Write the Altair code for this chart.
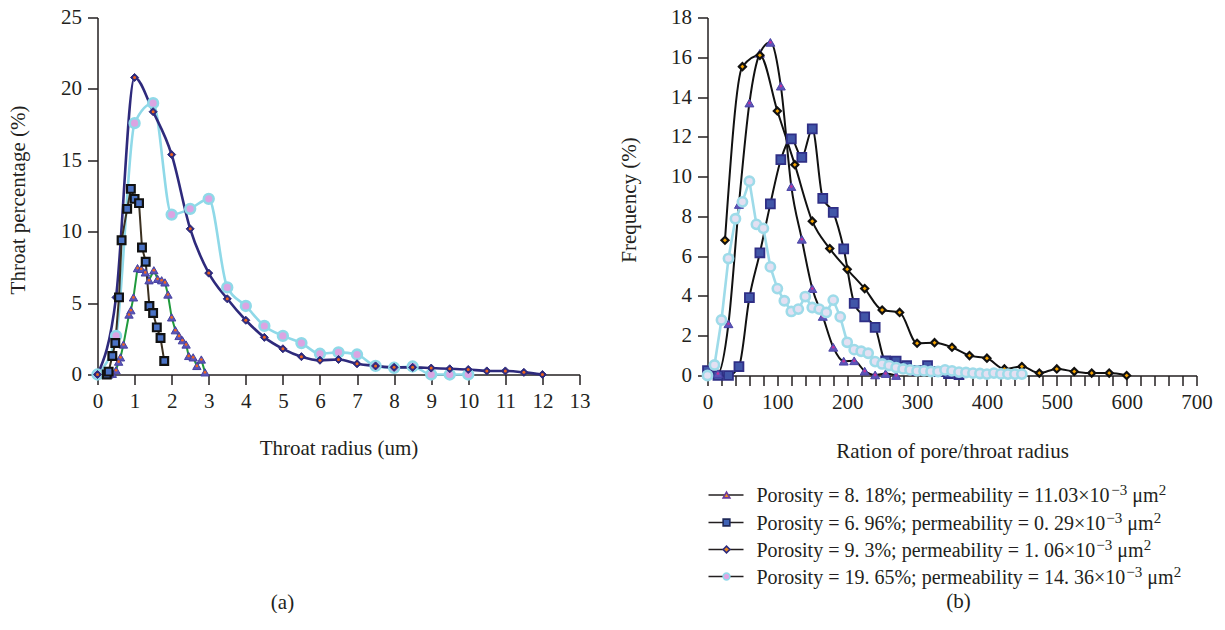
import altair as alt
import pandas as pd

FONT = "Liberation Serif"
INK = "#231f20"
FS = 21

# ---------------- panel (a): throat radius distribution ----------------
a_dia_x = [0, 0.5, 1.0, 1.5, 2.0, 2.5, 3.0, 3.5, 4.0, 4.5, 5.0, 5.5, 6.0, 6.5, 7.0, 7.5, 8.0, 8.5, 9.0, 9.5, 10.0, 10.5, 11.0, 11.5, 12.0]
a_dia_y = [0, 5.4, 20.8, 18.4, 15.4, 10.2, 7.1, 5.3, 3.8, 2.6, 1.8, 1.25, 1.0, 1.05, 0.75, 0.6, 0.5, 0.5, 0.45, 0.4, 0.35, 0.25, 0.25, 0.15, 0.0]

a_cir_x = [0, 0.5, 1.0, 1.5, 2.0, 2.5, 3.0, 3.5, 4.0, 4.5, 5.0, 5.5, 6.0, 6.5, 7.0, 7.5, 8.0, 8.5, 9.0, 9.5, 10.0]
a_cir_y = [0, 2.7, 17.6, 19.0, 11.2, 11.6, 12.3, 6.1, 4.8, 3.4, 2.7, 2.2, 1.45, 1.55, 1.4, 0.6, 0.47, 0.56, 0, 0, 0]

a_sq_x = [0.25, 0.3, 0.4, 0.48, 0.58, 0.65, 0.8, 0.9, 1.0, 1.12, 1.2, 1.3, 1.4, 1.5, 1.6, 1.7, 1.8]
a_sq_y = [0.0, 0.2, 1.3, 2.2, 5.4, 9.4, 11.6, 13.0, 12.3, 12.0, 8.9, 7.9, 4.8, 4.3, 3.3, 2.55, 0.95]

a_tri_x = [0.3, 0.4, 0.5, 0.57, 0.62, 0.7, 0.85, 0.9, 0.97, 1.08, 1.18, 1.29, 1.39, 1.52, 1.62, 1.73, 1.82, 1.9,
           2.0, 2.1, 2.2, 2.29, 2.39, 2.46, 2.58, 2.68, 2.8, 2.9]
a_tri_y = [0.0, 0.05, 0.3, 0.9, 1.2, 2.1, 4.2, 4.5, 5.4, 7.45, 7.4, 7.15, 6.6, 7.3, 6.7, 6.6, 6.45, 5.6,
           4.0, 3.1, 2.7, 2.4, 2.1, 1.3, 1.2, 0.6, 1.05, 0.15]

# ---------------- panel (b): pore/throat radius ratio ----------------
b_tri_x = [0, 15, 30, 45, 60, 75, 90, 105, 120, 135, 150, 165, 180, 195, 210, 225, 240, 255, 270]
b_tri_y = [0.05, 0.1, 2.6, 8.6, 13.7, 16.2, 16.75, 14.55, 9.5, 6.85, 4.37, 2.97, 1.42, 0.72, 0.74, 0.22, 0.03, 0.1, 0.0]

b_sq_x = [0, 15, 30, 45, 60, 75, 90, 105, 120, 135, 150, 165, 180, 195, 210, 225, 240, 255, 270, 285, 300, 315, 330, 345, 360]
b_sq_y = [0.25, 0, 0, 0.45, 3.92, 6.17, 8.63, 10.85, 11.9, 10.97, 12.4, 8.9, 8.2, 6.37, 3.63, 2.95, 2.42, 0.74, 0.72, 0.5, 0.25, 0.5, 0.2, 0.1, 0.05]

b_dia_x = [25, 50, 75, 100, 125, 150, 175, 200, 225, 250, 275, 300, 325, 350, 375, 400, 425, 450, 475, 500, 525, 550, 575, 600]
b_dia_y = [6.8, 15.53, 16.1, 13.3, 10.6, 7.76, 6.38, 5.34, 4.37, 3.29, 3.17, 1.62, 1.65, 1.42, 1.0, 0.87, 0.33, 0.45, 0.12, 0.33, 0.2, 0.12, 0.12, 0.0]

b_cir_x = [0, 10, 20, 30, 40, 50, 60, 70, 80, 90, 100, 110, 120, 130, 140, 150, 160, 170, 180, 190, 200, 210, 220,
           230, 240, 250, 260, 270, 280, 290, 300, 310, 320, 330, 340, 350, 360, 370, 380, 390, 400, 410, 420, 430, 440, 450]
b_cir_y = [0, 0.53, 2.79, 5.88, 7.88, 8.73, 9.77, 7.6, 7.4, 5.46, 4.37, 3.76, 3.22, 3.34, 3.97, 3.42, 3.34, 3.17, 3.79,
           2.95, 1.67, 1.3, 1.22, 1.12, 0.7, 0.58, 0.5, 0.4, 0.33, 0.28, 0.23, 0.23, 0.2, 0.2, 0.28, 0.23, 0.17, 0.15,
           0.12, 0.1, 0.07, 0.12, 0.08, 0.07, 0.07, 0.07]

# legend text pieces: main text, superscript exponent, unit, unit superscript
legend_main = [
    "Porosity = 8. 18%; permeability = 11.03×10",
    "Porosity = 6. 96%; permeability = 0. 29×10",
    "Porosity = 9. 3%; permeability = 1. 06×10",
    "Porosity = 19. 65%; permeability = 14. 36×10",
]
legend_exp = ["−3", "−3", "−3", "−3"]
legend_unit = ["μm", "μm", "μm", "μm"]
legend_unit_exp = ["2", "2", "2", "2"]
legend_shapes = ["triangle-up", "square", "diamond", "circle"]
legend_fills = ["#f08a24", "#3f62b5", "#f08a24", "#e0a4e4"]
legend_strokes = ["#6a3c9e", "#1f2a5a", "#2b2a7c", "#93d9ea"]

A_W, A_H = 482, 357
B_W, B_H = 489, 358

# Times-compatible advance widths (per 1000 em) used only to place superscripts
_W = {" ": 250, "P": 556, "o": 500, "r": 333, "s": 389, "i": 278, "t": 278, "y": 500, "=": 564,
      ".": 250, "%": 833, ";": 278, "p": 500, "e": 444, "m": 778, "a": 444, "b": 500, "l": 278,
      "×": 564, "−": 564, "μ": 500}


def text_width(s, size):
    return sum(_W.get(c, 500) for c in s) * size / 1000.0


def df(xs, ys):
    return pd.DataFrame({"x": xs, "y": ys})


def series(data, X, Y, line_color, line_w, interp, shape, size, fill, stroke, sw, dot=None, dot_size=7):
    base = alt.Chart(data)
    line = base.mark_line(color=line_color, strokeWidth=line_w, interpolate=interp).encode(x=X, y=Y)
    pts = [base.mark_point(shape=shape, size=size, filled=True, fill=fill, stroke=stroke,
                           strokeWidth=sw, opacity=1).encode(x=X, y=Y)]
    if dot:
        pts.append(base.mark_point(shape="circle", size=dot_size, filled=True, color=dot,
                                   opacity=1).encode(x=X, y=Y))
    return line, pts


def txt(s, x, y, align="center", size=FS, baseline="middle"):
    return alt.Chart(pd.DataFrame({"t": [s]})).mark_text(
        font=FONT, fontSize=size, color=INK, align=align, baseline=baseline
    ).encode(text="t:N", x=alt.value(x), y=alt.value(y))


# ---------- panel (a) ----------
AX = alt.X("x:Q", scale=alt.Scale(domain=[0, 13], nice=False, zero=False),
           axis=alt.Axis(values=list(range(0, 14)), title="Throat radius (um)", labelFlush=False,
                         titleX=A_W / 2, titleY=74, titleBaseline="middle"))
AY = alt.Y("y:Q", scale=alt.Scale(domain=[0, 25], nice=False),
           axis=alt.Axis(values=[0, 5, 10, 15, 20, 25], title="Throat percentage (%)",
                         titleX=-79, titleY=182, titleBaseline="middle"))

a_specs = [
    series(df(a_cir_x, a_cir_y), AX, AY, "#8fd9e8", 2.6, "monotone", "circle", 95, "#dba4e2", "#8fd9e8", 2.6),
    series(df(a_dia_x, a_dia_y), AX, AY, "#2e2a7c", 2.6, "monotone", "diamond", 65, "#2e2a7c", "#2e2a7c", 1, dot="#f0641e", dot_size=9),
    series(df(a_tri_x, a_tri_y), AX, AY, "#1f9a3c", 2.0, "linear", "triangle-up", 70, "#5b55b8", "#4640a0", 1, dot="#f0641e"),
    series(df(a_sq_x, a_sq_y), AX, AY, "#3b3020", 2.0, "linear", "square", 60, "#4a72c4", "#111111", 2.2),
]
a_layers = [s[0] for s in a_specs]
for s in a_specs:
    a_layers += s[1]
a_layers.append(txt("(a)", 185, 585))
left = alt.layer(*a_layers).properties(width=A_W, height=A_H)

# ---------- panel (b) ----------
BX = alt.X("x:Q", scale=alt.Scale(domain=[0, 700], nice=False, zero=False),
           axis=alt.Axis(values=list(range(0, 701, 20)), title="Ration of pore/throat radius",
                         labelExpr="datum.value % 100 == 0 ? datum.label : ''", labelFlush=False,
                         titleX=B_W / 2, titleY=76, titleBaseline="middle"))
BY = alt.Y("y:Q", scale=alt.Scale(domain=[0, 18], nice=False),
           axis=alt.Axis(values=list(range(0, 19, 2)), title="Frequency (%)",
                         titleX=-78, titleY=182, titleBaseline="middle"))

b_specs = [
    series(df(b_sq_x, b_sq_y), BX, BY, "#111111", 2.0, "monotone", "square", 80, "#4156a8", "#2f2f86", 1.8),
    series(df(b_tri_x, b_tri_y), BX, BY, "#111111", 2.0, "monotone", "triangle-up", 80, "#5d55b9", "#4a44a5", 1, dot="#c2309a"),
    series(df(b_dia_x, b_dia_y), BX, BY, "#111111", 2.0, "monotone", "diamond", 50, "#f5a300", "#111111", 2.2),
    series(df(b_cir_x, b_cir_y), BX, BY, "#9edbe9", 2.6, "linear", "circle", 85, "#e4e0f2", "#9edbe9", 2.6),
]
b_layers = [s[0] for s in b_specs]
for s in b_specs:
    b_layers += s[1]

LFS = 20
SFS = 15
leg_y = [477.5, 505, 532, 559]
for i in range(len(legend_main)):
    yy = leg_y[i]
    base_y = yy + 7
    b_layers.append(
        alt.Chart(pd.DataFrame({"k": [legend_main[i]]})).mark_rule(color=INK, strokeWidth=1.5).encode(
            x=alt.value(1), x2=alt.value(36), y=alt.value(yy))
    )
    b_layers.append(
        alt.Chart(pd.DataFrame({"k": [legend_main[i]]})).mark_point(
            shape=legend_shapes[i], size=45, filled=True, fill=legend_fills[i],
            stroke=legend_strokes[i], strokeWidth=1.6, opacity=1).encode(
            x=alt.value(19), y=alt.value(yy))
    )
    x0 = 49
    b_layers.append(txt(legend_main[i], x0, base_y, align="left", size=LFS, baseline="alphabetic"))
    x1 = x0 + text_width(legend_main[i], LFS) + 1
    b_layers.append(txt(legend_exp[i], x1, base_y - 7, align="left", size=SFS, baseline="alphabetic"))
    x2 = x1 + text_width(legend_exp[i], SFS) + 5
    b_layers.append(txt(legend_unit[i], x2, base_y, align="left", size=LFS, baseline="alphabetic"))
    x3 = x2 + text_width(legend_unit[i], LFS) + 1
    b_layers.append(txt(legend_unit_exp[i], x3, base_y - 7, align="left", size=SFS, baseline="alphabetic"))
b_layers.append(txt("(b)", 251, 584))
right = alt.layer(*b_layers).properties(width=B_W, height=B_H)

chart = alt.hconcat(left, right, spacing=28).properties(
    padding={"left": 7.5, "top": 6.5, "right": 0, "bottom": 0}
).configure_view(stroke=None).configure_axis(
    labelFont=FONT, labelFontSize=FS, labelColor=INK,
    titleFont=FONT, titleFontSize=FS, titleFontWeight="normal", titleColor=INK,
    domainColor=INK, domainWidth=1.5, tickColor=INK, tickWidth=1.5, tickSize=10,
    labelPadding=6, grid=False
)

chart.save("out.html", embed_options={"renderer": "svg", "actions": False})
